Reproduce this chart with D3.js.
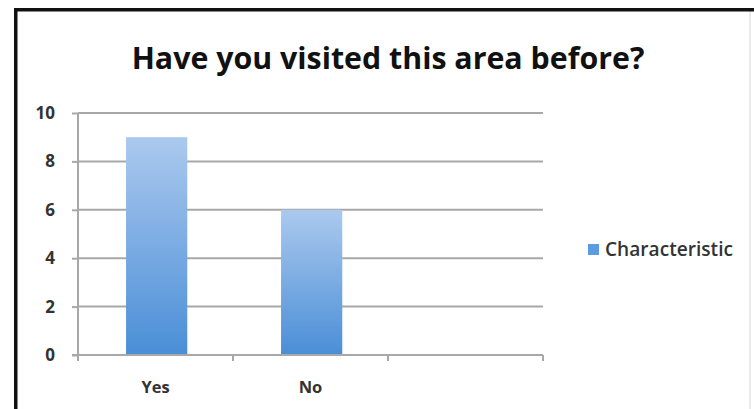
<!DOCTYPE html>
<html><head><meta charset="utf-8">
<script src="https://cdn.jsdelivr.net/npm/d3@7"></script>
<style>html,body{margin:0;padding:0;background:#fff;overflow:hidden}</style>
</head><body>
<svg id="c" width="754" height="409"></svg>
<script>
const categories = ["Yes", "No", ""];
const values = [9, 6, null];
const yTicks = [0, 2, 4, 6, 8, 10];
const seriesName = "Characteristic";
const titleText = "Have you visited this area before?";

const svg = d3.select("#c");
svg.append("rect").attr("width",754).attr("height",409).attr("fill","#fff");

// frame
svg.append("line").attr("x1",750).attr("x2",750).attr("y1",11).attr("y2",409).attr("stroke","#e4e4e4").attr("stroke-width",1.5);
svg.append("rect").attr("x",14).attr("y",8).attr("width",740).attr("height",3.5).attr("fill","#111");
svg.append("rect").attr("x",14).attr("y",8).attr("width",3.5).attr("height",401).attr("fill","#111");

const defs = svg.append("defs");
const g = defs.append("linearGradient").attr("id","barGrad").attr("x1",0).attr("y1",0).attr("x2",0).attr("y2",1);
g.append("stop").attr("offset","0%").attr("stop-color","#abc9ee");
g.append("stop").attr("offset","100%").attr("stop-color","#4a8ed7");

const y = d3.scaleLinear().domain([0,10]).range([355,113]);
const x = d3.scaleBand().domain(categories).range([78,543]).paddingInner(0).paddingOuter(0);

// gridlines
svg.append("g").selectAll("line").data(yTicks.filter(d=>d>0)).join("line")
  .attr("x1",78).attr("x2",543).attr("y1",d=>y(d)).attr("y2",d=>y(d))
  .attr("stroke","#a8a8a8").attr("stroke-width",2);

// bars
const bw = x.bandwidth();
svg.append("g").selectAll("rect").data(categories.map((c,i)=>({c,v:values[i]})).filter(d=>d.v!=null)).join("rect")
  .attr("x",d=>x(d.c)+bw*0.31).attr("width",bw*0.395)
  .attr("y",d=>y(d.v)).attr("height",d=>y(0)-y(d.v))
  .attr("fill","url(#barGrad)");

// y axis
const yAxis = d3.axisLeft(y).tickValues(yTicks).tickSize(6).tickPadding(17).tickFormat(d3.format("d"));
const ya = svg.append("g").attr("transform","translate(78,0)").call(yAxis);
ya.attr("font-size",null).attr("font-family",null);
ya.select(".domain").attr("stroke","#a8a8a8").attr("stroke-width",2).attr("d","M0,113V355");
ya.selectAll(".tick line").attr("stroke","#a8a8a8").attr("stroke-width",2);
ya.selectAll("text").attr("font-family","Open Sans, sans-serif").attr("font-weight","bold").attr("font-size",17).attr("fill","#333");

// x axis baseline and category tick marks
svg.append("line").attr("x1",72).attr("x2",543).attr("y1",355).attr("y2",355).attr("stroke","#a8a8a8").attr("stroke-width",2);
const bounds = categories.map(c=>x(c)).concat([x(categories[categories.length-1])+bw]);
svg.append("g").selectAll("line").data(bounds).join("line")
  .attr("x1",d=>d).attr("x2",d=>d).attr("y1",355).attr("y2",361)
  .attr("stroke","#a8a8a8").attr("stroke-width",2);
svg.append("g").selectAll("text").data(categories).join("text")
  .attr("x",d=>x(d)+bw/2).attr("y",393).attr("text-anchor","middle")
  .attr("font-family","Open Sans, sans-serif").attr("font-weight","bold").attr("font-size",16.5).attr("fill","#333")
  .text(d=>d);

// title
const t = svg.append("text").attr("x",388).attr("y",69).attr("text-anchor","middle")
  .attr("font-family","Open Sans, sans-serif").attr("font-weight","bold").attr("font-size",26).attr("fill","#111")
  .text(titleText);
const tw = t.node().getComputedTextLength();
t.attr("font-size", 26*513/tw);

// legend
svg.append("rect").attr("x",588).attr("y",244).attr("width",11).attr("height",11).attr("fill","#5b9be0");
const lt = svg.append("text").attr("x",605).attr("y",256)
  .attr("font-family","Open Sans, sans-serif").attr("font-weight","600").attr("font-size",15).attr("fill","#333").text(seriesName);
const lw = lt.node().getComputedTextLength();
lt.attr("font-size", 15*128/lw);
</script>
</body></html>
